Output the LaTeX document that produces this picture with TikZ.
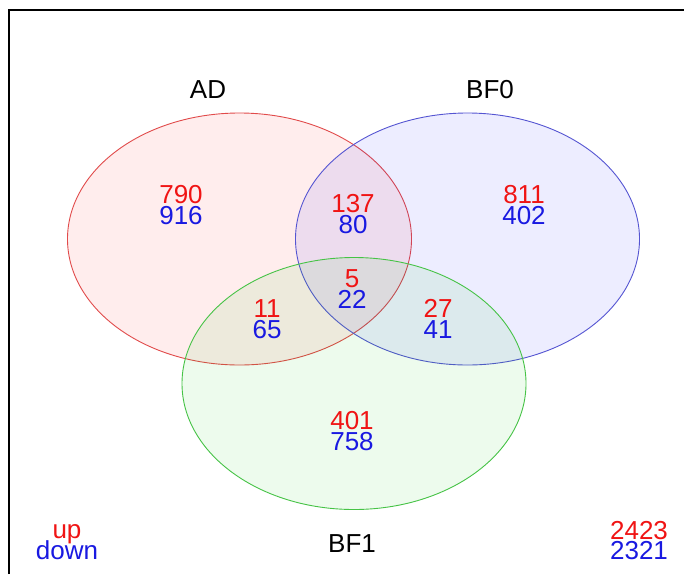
\documentclass[tikz,border=0pt]{standalone}
\usepackage{fontspec}
\setmainfont{Liberation Sans}
\usetikzlibrary{shapes.geometric}
\definecolor{lred}{RGB}{225,75,75}
\definecolor{lblue}{RGB}{85,85,210}
\definecolor{lgreen}{RGB}{70,195,70}
\definecolor{tred}{RGB}{240,20,20}
\definecolor{tblue}{RGB}{25,25,225}
\begin{document}
\begin{tikzpicture}[x=1pt,y=-1pt,
  setshape/.style={ellipse, inner sep=0pt, minimum width=344pt, minimum height=252pt, line width=0.9pt, fill opacity=0.07},
  txt/.style={inner sep=0pt, font=\fontsize{26}{26}\selectfont, text height=19pt, text depth=0pt},
  lab/.style={txt, text=black},
  upnum/.style={txt, text=tred},
  dnnum/.style={txt, text=tblue}]
\useasboundingbox (0,0) rectangle (684,574);
\fill[white] (0,0) rectangle (684,574);
\draw[line width=1.3pt] (9,574) -- (9,10) -- (684,10);
% sets
\node[setshape, draw=lred, fill=red] (AD) at (239.5,239) {};
\node[setshape, draw=lblue, fill=blue] (BF0) at (467.5,239) {};
\node[setshape, draw=lgreen, fill={rgb,255:red,0;green,200;blue,0}] (BF1) at (354,383.5) {};
% set labels
\node[lab] (labAD) at (208,89) {AD};
\node[lab] (labBF0) at (490,89) {BF0};
\node[lab] (labBF1) at (352,543) {BF1};
% region counts
\node[upnum] (u1) at (181,194) {790};
\node[dnnum] (d1) at (181,215) {916};
\node[upnum] (u2) at (353,203) {137};
\node[dnnum] (d2) at (353,224) {80};
\node[upnum] (u3) at (524,194) {811};
\node[dnnum] (d3) at (524,215) {402};
\node[upnum] (u4) at (352,278) {5};
\node[dnnum] (d4) at (352,299) {22};
\node[upnum] (u5) at (267,308) {11};
\node[dnnum] (d5) at (267,329) {65};
\node[upnum] (u6) at (438,308) {27};
\node[dnnum] (d6) at (438,329) {41};
\node[upnum] (u7) at (352,420) {401};
\node[dnnum] (d7) at (352,441) {758};
% legend and totals
\node[upnum, text height=14pt, text depth=0pt] (up) at (67,531) {up};
\node[dnnum, text height=19pt, text depth=0pt] (down) at (67,550) {down};
\node[upnum] (tu) at (639,530) {2423};
\node[dnnum] (td) at (639,550) {2321};
\end{tikzpicture}
\end{document}
